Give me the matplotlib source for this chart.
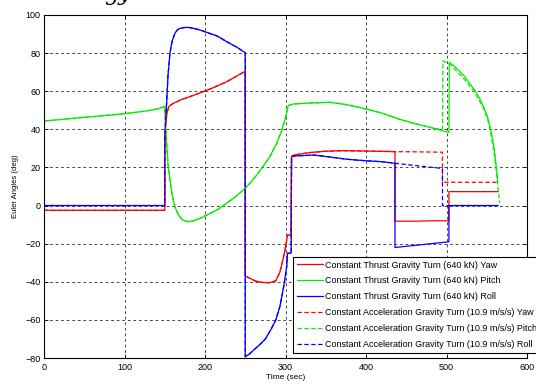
import matplotlib
matplotlib.use("Agg")
import matplotlib.pyplot as plt

plt.rcParams["font.family"] = ["Liberation Sans", "DejaVu Sans"]

# --- constant thrust gravity turn (640 kN), solid lines ---
ct_yaw_t = [0, 150, 150, 151, 152.5, 155, 160, 170, 190, 210, 227, 250, 250, 255, 262, 270, 280,
            288, 293, 297, 300, 302.5, 307, 307.5, 310, 330, 350, 370, 400, 436, 436, 460, 480,
            503, 503, 564]
ct_yaw = [-2.5, -2.5, 35, 42, 48, 52, 53.5, 55.5, 58.5, 61.8, 65, 70.5, -37, -38, -39.5, -40.3,
          -40.5, -39.5, -35, -28, -22, -15.5, -15.5, 25.5, 26.5, 27.8, 28.5, 28.8, 28.6, 28.3,
          -8.2, -8.2, -8, -8, 7.3, 7.3]

ct_pitch_t = [0, 25, 50, 75, 100, 125, 140, 150, 150.5, 152, 154, 156.5, 158.5, 160.6, 163, 167,
              172, 179, 186, 195, 202, 215, 227, 240, 252, 262, 272, 281, 289, 295, 300, 303.5,
              310, 330, 355, 375, 397, 420, 440, 459, 480, 503, 503.5, 510, 521, 528, 535, 541,
              546, 551, 554, 557, 560, 562, 563.6]
ct_pitch = [44.4, 45.3, 46.3, 47.2, 48.2, 49.5, 50.6, 52, 47, 35, 22, 13.4, 7.5, 2.9, -1, -5,
            -7.5, -8.5, -8, -6.5, -5, -2.3, 1.2, 5.3, 9.9, 14.8, 20.4, 26, 32.7, 39, 46, 52.5,
            53.3, 53.8, 54.2, 53, 51, 48.5, 45.5, 43.2, 41, 38.3, 75.2, 73, 68.5, 64.5, 60.6,
            56.5, 51.9, 46.5, 41.4, 35.5, 27.4, 20, 12.5]

ct_roll_t = [0, 150, 150, 151, 152.5, 154, 156.5, 159, 162.7, 166, 169, 174, 179, 186, 195, 202,
             215, 227, 240, 250, 250, 255, 260, 268, 275, 282, 288, 293, 298, 301.5, 302.5, 307,
             307.5, 310, 335, 355, 376, 400, 420, 436, 436, 470, 503, 503, 564]
ct_roll = [0, 0, 30, 45, 55, 68, 80, 86, 90.5, 92.3, 93, 93.4, 93.5, 93, 92, 90.9, 89, 86, 83,
           80.2, -79.3, -78, -76, -73, -70, -65, -60, -53, -42, -32, -25, -25, 25.8, 26, 26.5,
           25.5, 24.3, 23.5, 23, 22.2, -22, -20.5, -19, 0, 0]

# --- constant acceleration gravity turn (10.9 m/s/s), dashed lines ---
# identical to the thrust case up to the split time, then these tails
ca_yaw_split, ca_yaw_tail_t, ca_yaw_tail = 436, [460, 495, 495, 564], [28.2, 28.0, 12.2, 12.2]
ca_pitch_split = 480
ca_pitch_tail_t = [495, 495.5, 505, 521, 533, 545, 552, 558, 562, 566]
ca_pitch_tail = [39.7, 76, 74, 66.8, 60.6, 52, 44, 31, 18, 1.4]
ca_roll_split, ca_roll_tail_t, ca_roll_tail = 436, [465, 492, 495, 495, 564], [20.8, 19.6, 19.5, 0, 0]

labels = ["Constant Thrust Gravity Turn (640 kN) Yaw",
          "Constant Thrust Gravity Turn (640 kN) Pitch",
          "Constant Thrust Gravity Turn (640 kN) Roll",
          "Constant Acceleration Gravity Turn (10.9 m/s/s) Yaw",
          "Constant Acceleration Gravity Turn (10.9 m/s/s) Pitch",
          "Constant Acceleration Gravity Turn (10.9 m/s/s) Roll"]


def with_tail(t, v, split, tt, tv):
    # keep the shared part up to and including the first sample at the split time
    n = sum(1 for x in t if x < split) + 1
    return list(t[:n]) + tt, list(v[:n]) + tv


ca_yaw_t, ca_yaw = with_tail(ct_yaw_t, ct_yaw, ca_yaw_split, ca_yaw_tail_t, ca_yaw_tail)
ca_pitch_t, ca_pitch = with_tail(ct_pitch_t, ct_pitch, ca_pitch_split, ca_pitch_tail_t, ca_pitch_tail)
ca_roll_t, ca_roll = with_tail(ct_roll_t, ct_roll, ca_roll_split, ca_roll_tail_t, ca_roll_tail)

fig = plt.figure(figsize=(5.36, 3.87), dpi=100)
ax = fig.add_axes([44 / 536, 1 - 358 / 387, 483 / 536, 343 / 387])

lw = 0.9
dash = (0, (3.5, 2))
ax.plot(ct_yaw_t, ct_yaw, color="#ff0000", lw=lw, label=labels[0])
ax.plot(ct_pitch_t, ct_pitch, color="#00ee00", lw=lw, label=labels[1])
ax.plot(ct_roll_t, ct_roll, color="#0000ff", lw=lw, label=labels[2])
ax.plot(ca_yaw_t, ca_yaw, color="#ff0000", lw=lw, ls=dash, label=labels[3])
ax.plot(ca_pitch_t, ca_pitch, color="#00ee00", lw=lw, ls=dash, label=labels[4])
ax.plot(ca_roll_t, ca_roll, color="#0000ff", lw=lw, ls=dash, label=labels[5])

ax.set_xlim(0, 600); ax.set_ylim(-80, 100)
ax.set_xticks(range(0, 601, 100)); ax.set_yticks(range(-80, 101, 20))
ax.tick_params(direction="in", length=3, width=0.6, labelsize=6.5, top=True, right=True)
ax.tick_params(axis="x", pad=3.5); ax.tick_params(axis="y", pad=2.5)
ax.grid(True, color="k", lw=0.5, ls=(0, (4, 4)))
for s in ax.spines.values():
    s.set_linewidth(0.8)

ax.set_xlabel("Time (sec)", fontsize=6)
ax.set_ylabel("Euler Angles (deg)", fontsize=5.5)
ax.xaxis.set_label_coords(0.5, -0.048)
ax.yaxis.set_label_coords(-0.052, 0.5)

leg = ax.legend(loc="upper left", bbox_to_anchor=(293 / 536, 1 - 257 / 387),
                bbox_transform=fig.transFigure, borderaxespad=0, fontsize=6.5,
                fancybox=False, framealpha=1, edgecolor="k", handlelength=2.9,
                handletextpad=0.2, labelspacing=0.76, borderpad=0.4)
leg.get_frame().set_linewidth(0.8)

# bottom of the cropped caption above the plot
fig.text(118 / 536, 1.0, "gy", fontsize=16, style="italic", family="DejaVu Serif",
         ha="center", va="baseline")

fig.savefig("out.png", dpi=100)
